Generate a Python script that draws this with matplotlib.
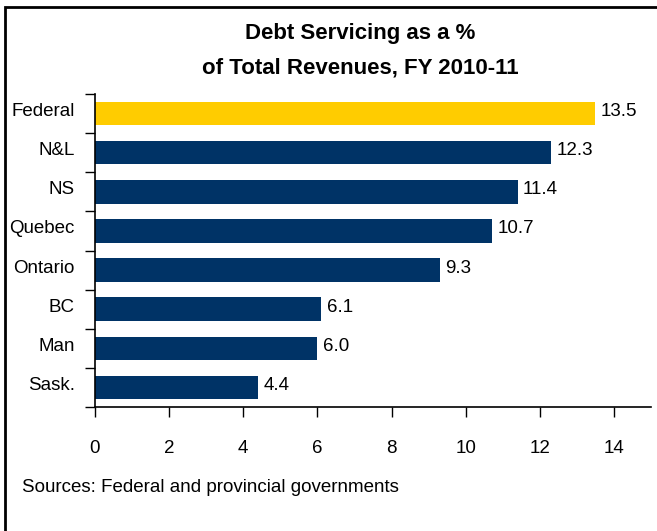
import matplotlib
matplotlib.use('Agg')
import matplotlib.pyplot as plt
from matplotlib.patches import Rectangle

plt.rcParams['font.family'] = ['Liberation Sans', 'DejaVu Sans']

regions = ['Federal', 'N&L', 'NS', 'Quebec', 'Ontario', 'BC', 'Man', 'Sask.']
debt_share = [13.5, 12.3, 11.4, 10.7, 9.3, 6.1, 6.0, 4.4]
xticks = [0, 2, 4, 6, 8, 10, 12, 14]

navy = '#003366'
gold = '#FFCC00'
colors = [gold] + [navy] * (len(regions) - 1)

fig = plt.figure(figsize=(6.57, 5.31), dpi=100)
W, H = 657, 531
ax = fig.add_axes([95 / W, 1 - 407 / H, (651 - 95) / W, (407 - 94) / H])

ypos = list(range(len(regions)))
ax.barh(ypos, debt_share, height=0.6, color=colors)
for y, v in zip(ypos, debt_share):
    ax.text(v + 0.15, y - 0.05, f'{v:.1f}', va='center', ha='left', fontsize=13.5)

ax.set_ylim(len(regions) - 0.5, -0.5)
ax.set_xlim(0, 15)

# y ticks sit on the category boundaries; labels go at the centres
ax.set_yticks([i - 0.5 for i in range(len(regions) + 1)])
ax.set_yticklabels([])
ax.tick_params(axis='y', direction='out', length=7, width=1)
for y, name in zip(ypos, regions):
    ax.text(-0.55, y - 0.05, name, ha='right', va='center', fontsize=13.5)

ax.set_xticks(xticks)
ax.set_xticklabels([str(t) for t in xticks], fontsize=13.5)
ax.tick_params(axis='x', direction='out', length=7, width=1, pad=17)

for side in ['top', 'right']:
    ax.spines[side].set_visible(False)
for side in ['left', 'bottom']:
    ax.spines[side].set_linewidth(1.2)

fig.text(360 / W, 1 - 33 / H, 'Debt Servicing as a %', ha='center', va='center',
         fontsize=16, fontweight='bold')
fig.text(360 / W, 1 - 68 / H, 'of Total Revenues, FY 2010-11', ha='center',
         va='center', fontsize=16, fontweight='bold')
fig.text(22 / W, 1 - 487 / H, 'Sources: Federal and provincial governments',
         ha='left', va='center', fontsize=13.5)

# outer frame
fig.patches.append(Rectangle((5 / W, -0.1), 1.1, 1 - 7 / H + 0.1,
                             transform=fig.transFigure, fill=False,
                             edgecolor='black', linewidth=2))

fig.savefig('out.png', dpi=100)
